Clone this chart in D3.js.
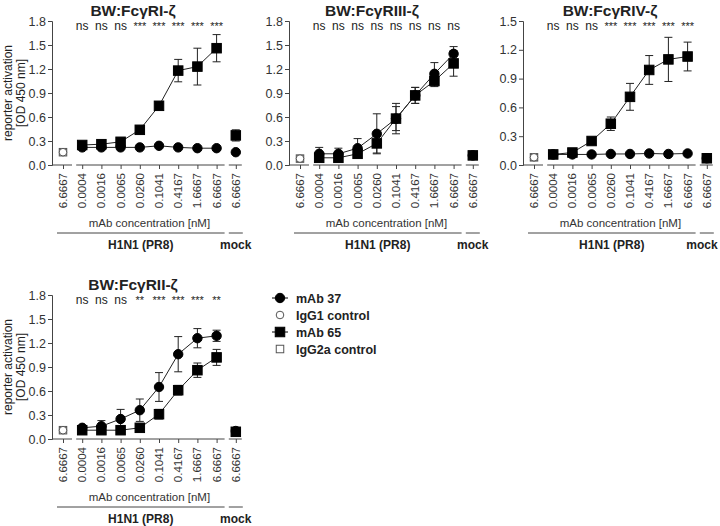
<!DOCTYPE html>
<html><head><meta charset="utf-8">
<script src="https://cdn.jsdelivr.net/npm/d3@7/dist/d3.min.js"></script>
<style>
body{margin:0;background:#fff;}
svg{display:block;font-family:"Liberation Sans",Arial,sans-serif;}
</style></head>
<body><svg id="chart" width="720" height="526"></svg>
<script>
// ---------- data ----------
const titles = ['BW:FcγRI-ζ','BW:FcγRIII-ζ','BW:FcγRIV-ζ','BW:FcγRII-ζ'];
const yMax = [1.8,1.8,1.5,1.8];
const concLabels = ['0.0004','0.0016','0.0065','0.0260','0.1041','0.4167','1.6667','6.6667'];
const controlLabel = '6.6667';
const mockLabel = '6.6667';
const mAb37 = [
  [0.22,0.22,0.22,0.22,0.24,0.22,0.21,0.21],
  [0.14,0.14,0.21,0.39,0.58,0.87,1.14,1.39],
  [0.11,0.11,0.11,0.115,0.115,0.12,0.115,0.12],
  [0.14,0.16,0.25,0.36,0.65,1.06,1.26,1.29]
];
const mAb37Err = [
  [0.01,0.01,0.01,0.01,0.01,0.01,0.01,0.01],
  [0.08,0.07,0.12,0.25,0.19,0.10,0.14,0.09],
  [0.01,0.01,0.01,0.01,0.01,0.01,0.01,0.01],
  [0.03,0.07,0.12,0.14,0.18,0.22,0.12,0.07]
];
const mAb65 = [
  [0.25,0.26,0.29,0.44,0.74,1.18,1.23,1.46],
  [0.09,0.09,0.14,0.27,0.58,0.87,1.05,1.27],
  [0.11,0.13,0.25,0.43,0.71,0.99,1.10,1.13],
  [0.11,0.11,0.11,0.14,0.31,0.61,0.86,1.02]
];
const mAb65Err = [
  [0.02,0.02,0.03,0.03,0.03,0.14,0.23,0.17],
  [0.03,0.03,0.04,0.12,0.15,0.10,0.07,0.16],
  [0.01,0.02,0.02,0.07,0.14,0.15,0.23,0.15],
  [0.01,0.02,0.02,0.02,0.06,0.06,0.09,0.10]
];
const igg1Ctrl = [0.16,0.08,0.08,0.11];
const igg2aCtrl = [0.16,0.08,0.08,0.11];
const ctrlErr = [0.03,0.03,0.03,0.03];
const mock37 = [0.16,0.12,0.07,0.10];
const mock65 = [0.37,0.12,0.07,0.09];
const mock65Err = [0.07,0.01,0.01,0.01];
const significance = [
  ['ns','ns','ns','***','***','***','***','***'],
  ['ns','ns','ns','ns','ns','ns','ns','ns'],
  ['ns','ns','ns','***','***','***','***','***'],
  ['ns','ns','ns','**','***','***','***','**']
];
const legendItems = [
  {name:'mAb 37', shape:'circle', filled:true},
  {name:'IgG1 control', shape:'circle', filled:false},
  {name:'mAb 65', shape:'square', filled:true},
  {name:'IgG2a control', shape:'square', filled:false}
];

// ---------- layout ----------
const origins = [{x:52,y:165},{x:289,y:165},{x:523,y:165},{x:52,y:439}];
const titleOffset = [81,83,87,81];
const plotH = 144;
const step = 19.2;
const ink = '#222';
const svg = d3.select('#chart');

function drawMarker(g, shape, filled, cx, cy){
  if(shape==='circle'){
    g.append('circle').attr('cx',cx).attr('cy',cy).attr('r',filled?4.7:3.8)
      .attr('fill',filled?'#000':'#fff').attr('stroke',filled?'#000':'#555').attr('stroke-width',1);
  } else {
    const s = filled?9.5:7.5;
    g.append('rect').attr('x',cx-s/2).attr('y',cy-s/2).attr('width',s).attr('height',s)
      .attr('fill',filled?'#000':'none').attr('stroke',filled?'#000':'#555').attr('stroke-width',1);
  }
}
function errBar(g, cx, y, v, e, color){
  if(!e) return;
  const y1=y(v+e), y2=y(Math.max(0,v-e));
  g.append('line').attr('x1',cx).attr('x2',cx).attr('y1',y1).attr('y2',y2).attr('stroke',color).attr('stroke-width',1);
  [y1,y2].forEach(yy=>g.append('line').attr('x1',cx-4).attr('x2',cx+4).attr('y1',yy).attr('y2',yy).attr('stroke',color).attr('stroke-width',1));
}

titles.forEach((title,p)=>{
  const o = origins[p];
  const g = svg.append('g');
  const keys = ['ctrl'].concat(concLabels.map((c,i)=>'c'+i)).concat(['mock']);
  const x = d3.scalePoint().domain(keys).range([o.x+11, o.x+11+9*step]);
  const y = d3.scaleLinear().domain([0,yMax[p]]).range([o.y, o.y-plotH]);

  // y axis
  const yAxis = d3.axisLeft(y).tickValues(d3.range(0,yMax[p]+0.001,0.3)).tickFormat(d3.format('.1f')).tickSize(4).tickPadding(2);
  const ya = g.append('g').attr('transform',`translate(${o.x},0)`).call(yAxis);
  ya.selectAll('path,line').attr('stroke','#444');
  ya.selectAll('text').attr('font-size',12.5).attr('fill','#333').attr('font-family','"Liberation Sans",Arial,sans-serif');

  // x axis segments
  const segs = [[o.x, x('ctrl')+9],[x('c0')-6, x('c7')+8],[x('mock')-7, x('mock')+6]];
  segs.forEach(s=>g.append('line').attr('x1',s[0]).attr('x2',s[1]).attr('y1',o.y).attr('y2',o.y).attr('stroke','#444'));
  const xAxis = d3.axisBottom(x).tickSize(4).tickFormat(()=>'');
  const xa = g.append('g').attr('transform',`translate(0,${o.y})`).call(xAxis);
  xa.select('.domain').remove();
  xa.selectAll('line').attr('stroke','#444');
  const tickText = [controlLabel].concat(concLabels).concat([mockLabel]);
  keys.forEach((k,i)=>{
    g.append('text').attr('transform',`translate(${x(k)+4},${o.y+8}) rotate(-90)`)
      .attr('text-anchor','end').attr('font-size',11.5).attr('fill','#333').text(tickText[i]);
  });
  const cMid = (x('c0')+x('c7'))/2;
  g.append('text').attr('x',cMid).attr('y',o.y+62).attr('text-anchor','middle').attr('font-size',11.5).attr('fill','#333').text('mAb concentration [nM]');
  g.append('line').attr('x1',o.x+5).attr('x2',x('c7')+8).attr('y1',o.y+68).attr('y2',o.y+68).attr('stroke','#444');
  g.append('line').attr('x1',x('mock')-7).attr('x2',x('mock')+7).attr('y1',o.y+68).attr('y2',o.y+68).attr('stroke','#444');
  g.append('text').attr('x',(o.x+5+x('c7')+8)/2).attr('y',o.y+84).attr('text-anchor','middle').attr('font-size',12).attr('font-weight','bold').attr('fill',ink).text('H1N1 (PR8)');
  g.append('text').attr('x',Math.min(x('mock'),702)).attr('y',o.y+84).attr('text-anchor','middle').attr('font-size',12).attr('font-weight','bold').attr('fill',ink).text('mock');

  // title
  g.append('text').attr('x',o.x+titleOffset[p]).attr('y',o.y-plotH-5).attr('text-anchor','middle').attr('font-size',15.5).attr('font-weight','bold').attr('fill',ink).text(title);

  // y label
  if(p===0||p===3){
    const cy = o.y-plotH/2;
    g.append('text').attr('transform',`translate(${o.x-40},${cy}) rotate(-90)`).attr('text-anchor','middle').attr('font-size',12).attr('fill',ink).text('reporter activation');
    g.append('text').attr('transform',`translate(${o.x-27},${cy}) rotate(-90)`).attr('text-anchor','middle').attr('font-size',12).attr('fill',ink).text('[OD 450 nm]');
  }

  // significance
  significance[p].forEach((s,i)=>{
    g.append('text').attr('x',x('c'+i)).attr('y',o.y-plotH+9).attr('text-anchor','middle').attr('font-size',s==='ns'?12:11).attr('fill',ink).text(s);
  });

  // controls
  errBar(g, x('ctrl'), y, igg1Ctrl[p], ctrlErr[p], '#555');
  drawMarker(g,'square',false,x('ctrl'),y(igg2aCtrl[p]));
  drawMarker(g,'circle',false,x('ctrl'),y(igg1Ctrl[p]));

  // series
  const series = [
    {vals:mAb65[p], err:mAb65Err[p], shape:'square'},
    {vals:mAb37[p], err:mAb37Err[p], shape:'circle'}
  ];
  series.forEach(sr=>{
    const line = d3.line().x((d,i)=>x('c'+i)).y(d=>y(d));
    g.append('path').attr('d',line(sr.vals)).attr('fill','none').attr('stroke','#222').attr('stroke-width',1);
    sr.vals.forEach((v,i)=>errBar(g,x('c'+i),y,v,sr.err[i],'#222'));
  });
  series.forEach(sr=>{
    sr.vals.forEach((v,i)=>drawMarker(g,sr.shape,true,x('c'+i),y(v)));
  });

  // mock
  errBar(g, x('mock'), y, mock65[p], mock65Err[p], '#222');
  drawMarker(g,'circle',true,x('mock'),y(mock37[p]));
  drawMarker(g,'square',true,x('mock'),y(mock65[p]));
});

// legend
const lg = svg.append('g');
legendItems.forEach((it,i)=>{
  const yy = 298 + i*17;
  if(it.filled){
    lg.append('line').attr('x1',272).attr('x2',288).attr('y1',yy).attr('y2',yy).attr('stroke','#000');
  }
  drawMarker(lg,it.shape,it.filled,280,yy);
  lg.append('text').attr('x',296).attr('y',yy+4.5).attr('font-size',12.5).attr('font-weight','bold').attr('fill',ink).text(it.name);
});
</script></body></html>
